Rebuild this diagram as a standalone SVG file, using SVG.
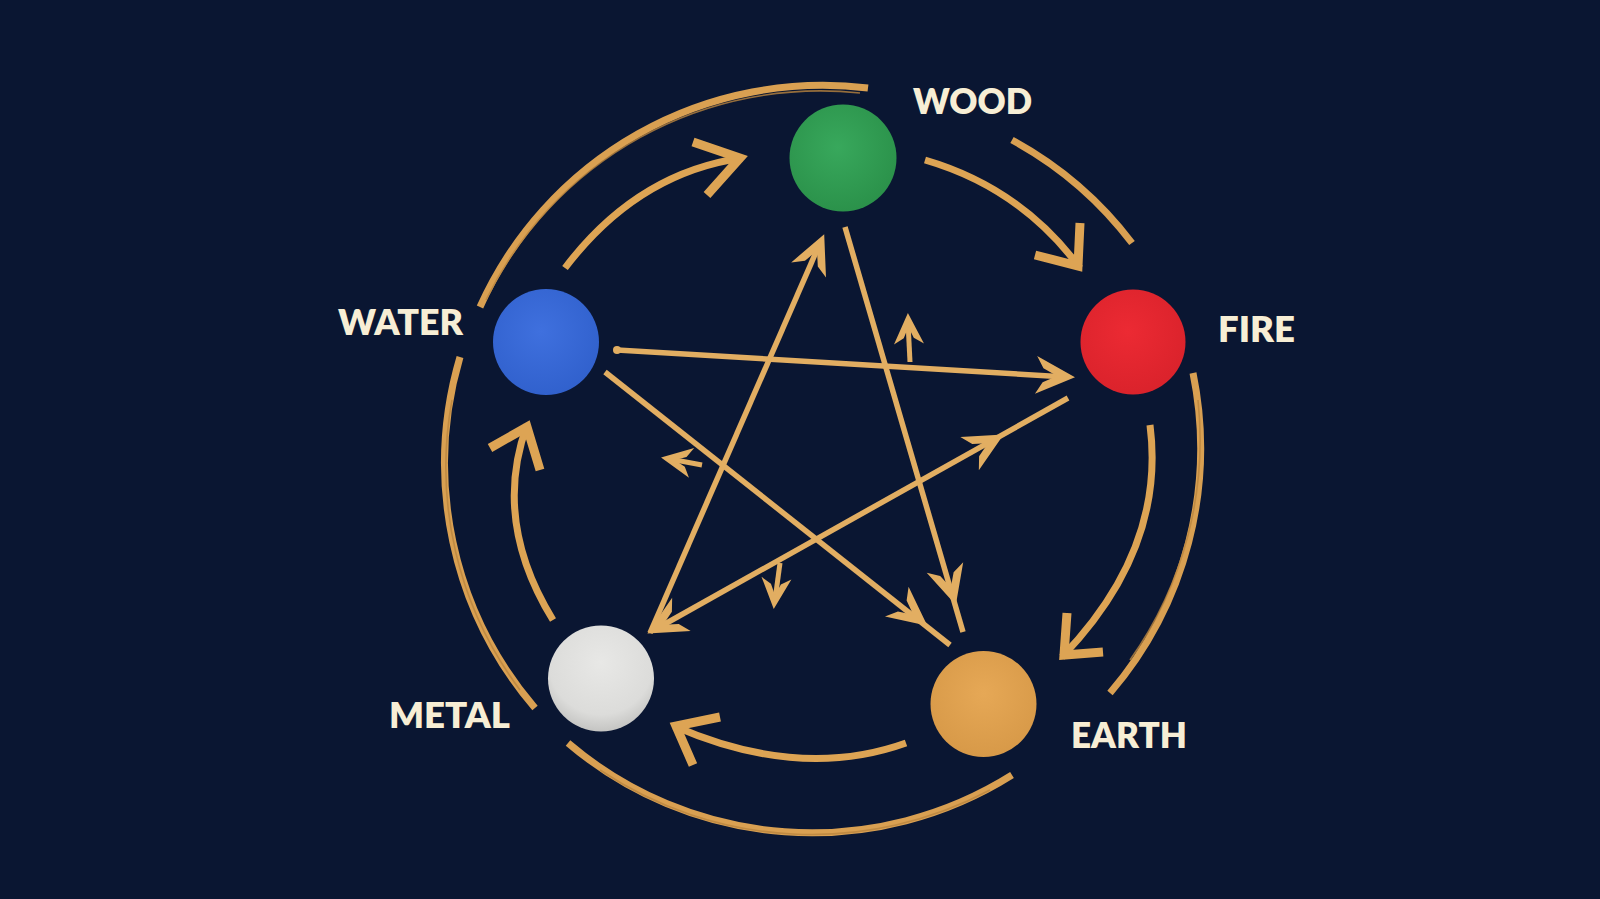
<svg xmlns="http://www.w3.org/2000/svg" width="1600" height="899" viewBox="0 0 1600 899">
  <defs>
    <style>
      .ring { fill: none; stroke: #D9A052; stroke-width: 7; stroke-linecap: butt; }
      .ring2 { fill: none; stroke: #B9843F; stroke-width: 1.6; opacity: 0.8; }
      .cyc { fill: none; stroke: #DDA454; stroke-width: 7; stroke-linecap: butt; }
      .chev { fill: none; stroke: #DDA454; stroke-width: 9; stroke-linejoin: miter; stroke-linecap: butt; }
      .star { fill: none; stroke: #E2AE62; stroke-width: 5.5; stroke-linecap: butt; }
      .stem { fill: none; stroke: #E2AE62; stroke-width: 5; stroke-linecap: butt; }
      .barb { fill: #E2AE62; }
      .lbl { font-family: Lato, "Open Sans", "Liberation Sans", sans-serif; font-weight: 800; font-size: 36px; fill: #F7EED5; }
    </style>
    <path id="head" d="M3,0 L-36,-19 L-29,-7 L-15,0 L-29,7 L-36,19 Z"/>
    <path id="headS" d="M3,0 L-28,-15 L-22,-5 L-11,0 L-22,5 L-28,15 Z"/>
    <radialGradient id="gWood" cx="0.45" cy="0.4" r="0.65">
      <stop offset="0" stop-color="#38A85C"/>
      <stop offset="1" stop-color="#2A9049"/>
    </radialGradient>
    <radialGradient id="gFire" cx="0.45" cy="0.4" r="0.65">
      <stop offset="0" stop-color="#EC2A33"/>
      <stop offset="1" stop-color="#D9222B"/>
    </radialGradient>
    <radialGradient id="gWater" cx="0.45" cy="0.4" r="0.65">
      <stop offset="0" stop-color="#3F70DE"/>
      <stop offset="1" stop-color="#3060CC"/>
    </radialGradient>
    <radialGradient id="gMetal" cx="0.5" cy="0.35" r="0.7">
      <stop offset="0" stop-color="#E8E8E6"/>
      <stop offset="0.7" stop-color="#DCDCDA"/>
      <stop offset="1" stop-color="#BDBDBB"/>
    </radialGradient>
    <radialGradient id="gEarth" cx="0.5" cy="0.4" r="0.65">
      <stop offset="0" stop-color="#E6A856"/>
      <stop offset="1" stop-color="#D69847"/>
    </radialGradient>
  </defs>

  <rect x="0" y="0" width="1600" height="899" fill="#0A1632"/>

  <g id="connectors">
    <!-- outer ring (brush arcs) -->
    <g id="outer-ring">
      <path class="ring" d="M480,307 A376,376 0 0 1 868,88"/>
      <path class="ring2" d="M486,300 A372,372 0 0 1 860,93"/>
      <path class="ring" d="M1012,140 A376,376 0 0 1 1132,243"/>
      <path class="ring" d="M1193,373 A376,376 0 0 1 1110,693"/>
      <path class="ring2" d="M1198,400 A380,380 0 0 1 1130,660"/>
      <path class="ring" d="M1012,775 A376,376 0 0 1 568,743"/>
      <path class="ring2" d="M990,790 A380,380 0 0 1 600,770"/>
      <path class="ring" d="M535,708 A376,376 0 0 1 460,357"/>
      <path class="ring2" d="M520,690 A372,372 0 0 1 452,400"/>
    </g>

    <!-- generating cycle arrows -->
    <g id="cycle">
      <path class="cyc" d="M565,268 Q637,173 742,158"/>
      <polyline class="chev" points="693,142 740,158 707,195"/>
      <path class="cyc" d="M925,160 Q1021,188 1080,268"/>
      <polyline class="chev" points="1035,255 1078,266 1080,223"/>
      <path class="cyc" d="M1150,425 Q1166,549 1062,657"/>
      <polyline class="chev" points="1067,613 1064,655 1103,652"/>
      <path class="cyc" d="M906,743 Q800,781 674,726"/>
      <polyline class="chev" points="720,717 676,726 693,765"/>
      <path class="cyc" d="M553,620 Q492,521 527,425"/>
      <polyline class="chev" points="490,448 527,427 540,470"/>
    </g>

    <!-- controlling star -->
    <g id="star">
      <line class="star" x1="845" y1="227" x2="963" y2="632"/>
      <use href="#head" class="barb" transform="translate(955,602) rotate(73.8)"/>

      <line class="star" x1="650" y1="633" x2="820" y2="243"/>
      <use href="#head" class="barb" transform="translate(823,237) rotate(-66.4)"/>

      <line class="star" x1="617" y1="350" x2="1066" y2="377"/>
      <circle cx="617" cy="350" r="4" class="barb"/>
      <use href="#head" class="barb" transform="translate(1072,377) rotate(3.4)"/>

      <line class="star" x1="1068" y1="398" x2="656" y2="629"/>
      <use href="#head" class="barb" transform="translate(650,632) rotate(150.8)"/>
      <use href="#head" class="barb" transform="translate(1001,436) rotate(-29.2)"/>

      <line class="star" x1="605" y1="372" x2="950" y2="645"/>
      <use href="#head" class="barb" transform="translate(925,624) rotate(38.4)"/>

      <!-- small free arrows -->
      <line class="stem" x1="910" y1="362" x2="908" y2="322"/>
      <use href="#headS" class="barb" transform="translate(908,316) rotate(-92)"/>
      <line class="stem" x1="702" y1="465" x2="670" y2="459"/>
      <use href="#headS" class="barb" transform="translate(664,458) rotate(190)"/>
      <line class="stem" x1="780" y1="563" x2="775" y2="600"/>
      <use href="#headS" class="barb" transform="translate(774,606) rotate(95)"/>
    </g>
  </g>

  <g id="node-wood">
    <circle cx="843" cy="158" r="53.5" fill="url(#gWood)"/>
    <text class="lbl" x="913" y="114" textLength="119" lengthAdjust="spacingAndGlyphs">WOOD</text>
  </g>
  <g id="node-fire">
    <circle cx="1133" cy="342" r="52.5" fill="url(#gFire)"/>
    <text class="lbl" x="1218" y="342" textLength="77" lengthAdjust="spacingAndGlyphs">FIRE</text>
  </g>
  <g id="node-water">
    <circle cx="546" cy="342" r="53" fill="url(#gWater)"/>
    <text class="lbl" x="338" y="335" textLength="125" lengthAdjust="spacingAndGlyphs">WATER</text>
  </g>
  <g id="node-metal">
    <circle cx="601" cy="678.5" r="53" fill="url(#gMetal)"/>
    <text class="lbl" x="389" y="728" textLength="121" lengthAdjust="spacingAndGlyphs">METAL</text>
  </g>
  <g id="node-earth">
    <circle cx="983.5" cy="704" r="53" fill="url(#gEarth)"/>
    <text class="lbl" x="1071" y="748" textLength="116" lengthAdjust="spacingAndGlyphs">EARTH</text>
  </g>
</svg>
